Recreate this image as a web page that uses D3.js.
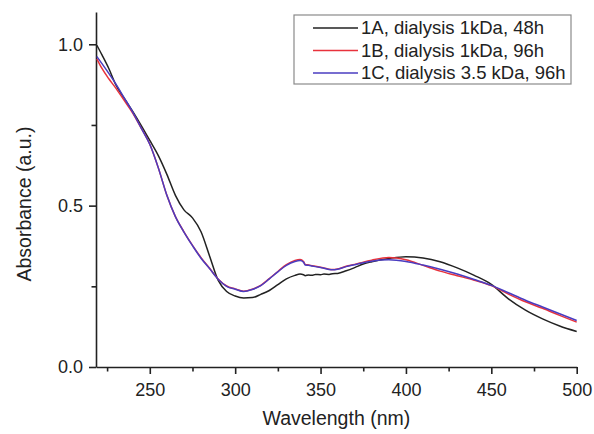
<!DOCTYPE html>
<html>
<head>
<meta charset="utf-8">
<script src="https://cdn.jsdelivr.net/npm/d3@7"></script>
<style>
  body { margin: 0; background: #fff; }
  text { font-family: "Liberation Sans", Arial, sans-serif; fill: #222; }
</style>
</head>
<body>
<div class="chart"></div>
<script>
// wavelength grid (nm) shared by the three spectra
const wavelength = [219, 222, 226, 230, 235, 240, 245, 250, 255, 260, 265, 270, 275, 280, 285, 290, 295,
  300, 305, 310, 315, 320, 325, 330, 335, 338, 340, 341, 343, 345, 347, 350, 352, 355, 357, 360, 365,
  370, 375, 380, 390, 400, 410, 420, 430, 440, 450, 460, 470, 480, 490, 500]

const abs_1A = [0.997, 0.967, 0.925, 0.876, 0.833, 0.792, 0.748, 0.702, 0.655, 0.597, 0.532, 0.487, 0.462, 0.419, 0.344, 0.269, 0.234,
  0.220, 0.214, 0.215, 0.225, 0.237, 0.255, 0.273, 0.284, 0.288, 0.286, 0.283, 0.285, 0.284, 0.287, 0.286, 0.288, 0.287, 0.289, 0.290, 0.298,
  0.308, 0.319, 0.326, 0.336, 0.342, 0.338, 0.326, 0.307, 0.284, 0.256, 0.211, 0.176, 0.149, 0.127, 0.110]

const abs_1B = [0.955, 0.925, 0.893, 0.865, 0.826, 0.787, 0.740, 0.690, 0.617, 0.532, 0.466, 0.419, 0.377, 0.339, 0.306, 0.273, 0.251,
  0.242, 0.235, 0.241, 0.253, 0.274, 0.296, 0.317, 0.330, 0.333, 0.327, 0.318, 0.316, 0.314, 0.312, 0.309, 0.307, 0.303, 0.302, 0.304, 0.312,
  0.318, 0.325, 0.331, 0.339, 0.332, 0.315, 0.297, 0.283, 0.269, 0.252, 0.226, 0.202, 0.182, 0.160, 0.139]

const abs_1C = [0.962, 0.940, 0.910, 0.878, 0.834, 0.790, 0.740, 0.690, 0.617, 0.532, 0.466, 0.418, 0.376, 0.337, 0.305, 0.272, 0.250,
  0.241, 0.234, 0.240, 0.252, 0.273, 0.295, 0.315, 0.327, 0.330, 0.325, 0.316, 0.315, 0.313, 0.311, 0.308, 0.306, 0.302, 0.301, 0.303, 0.311,
  0.317, 0.323, 0.328, 0.332, 0.327, 0.316, 0.303, 0.288, 0.271, 0.253, 0.230, 0.207, 0.186, 0.165, 0.144]

const series_names = ["1A, dialysis 1kDa, 48h", "1B, dialysis 1kDa, 96h", "1C, dialysis 3.5 kDa, 96h"]
const series_colors = ["#222222", "#e8323c", "#4a3cc0"]

const x_major = [250, 300, 350, 400, 450, 500]
const x_minor = [225, 275, 325, 375, 425, 475]
const y_major = [0.0, 0.5, 1.0]
const y_minor = [0.25, 0.75]

const width = 594
const height = 434
const margin = {top: 12, right: 17.3, bottom: 67, left: 96}

const svg = d3.select(".chart").append("svg")
  .attr("width", width)
  .attr("height", height)

const x = d3.scaleLinear()
  .domain([218.5, 500])
  .range([margin.left, width - margin.right])

const y = d3.scaleLinear()
  .domain([0, 1.1])
  .range([height - margin.bottom, margin.top])

// axes
const xAxis = svg.append("g")
  .attr("transform", `translate(0, ${y(0)})`)
  .call(d3.axisBottom(x).tickValues(x_major).tickSize(7).tickPadding(9).tickSizeOuter(0).tickFormat(d3.format("d")))
xAxis.append("g")
  .call(d3.axisBottom(x).tickValues(x_minor).tickSize(4.5).tickFormat("").tickSizeOuter(0))
  .select(".domain").remove()

const yAxis = svg.append("g")
  .attr("transform", `translate(${x(218.5)}, 0)`)
  .call(d3.axisLeft(y).tickValues(y_major).tickSize(7).tickPadding(6).tickSizeOuter(0).tickFormat(d3.format(".1f")))
yAxis.append("g")
  .call(d3.axisLeft(y).tickValues(y_minor).tickSize(4.5).tickFormat("").tickSizeOuter(0))
  .select(".domain").remove()

svg.selectAll(".domain, .tick line")
  .attr("stroke", "#222")
  .attr("stroke-width", 1.6)
svg.selectAll(".tick text")
  .attr("font-size", "18px")
  .attr("font-family", "Liberation Sans, Arial, sans-serif")
  .attr("fill", "#222")

// spectra
const line = d3.line()
  .x(d => x(d[0]))
  .y(d => y(d[1]))
  .curve(d3.curveMonotoneX)

const all_series = [abs_1A, abs_1B, abs_1C]
all_series.forEach((vals, i) => {
  svg.append("path")
    .datum(wavelength.map((w, j) => [w, vals[j]]))
    .attr("fill", "none")
    .attr("stroke", series_colors[i])
    .attr("stroke-width", 1.5)
    .attr("d", line)
})

// axis titles
svg.append("text")
  .attr("x", x(359.25))
  .attr("y", 425)
  .attr("text-anchor", "middle")
  .attr("font-size", "19.5px")
  .text("Wavelength (nm)")

svg.append("text")
  .attr("transform", `translate(31, ${y(0.505)}) rotate(-90)`)
  .attr("text-anchor", "middle")
  .attr("font-size", "19.5px")
  .text("Absorbance (a.u.)")

// legend
const legend = svg.append("g")
legend.append("rect")
  .attr("x", 294)
  .attr("y", 15)
  .attr("width", 277)
  .attr("height", 69)
  .attr("fill", "#fff")
  .attr("stroke", "#8a8a8a")
  .attr("stroke-width", 1.2)

series_names.forEach((name, i) => {
  const ly = 28 + i * 22.5
  legend.append("line")
    .attr("x1", 313).attr("x2", 358)
    .attr("y1", ly).attr("y2", ly)
    .attr("stroke", series_colors[i])
    .attr("stroke-width", 1.5)
  legend.append("text")
    .attr("x", 361)
    .attr("y", ly + 6)
    .attr("font-size", "18.5px")
    .text(name)
})
</script>
</body>
</html>
